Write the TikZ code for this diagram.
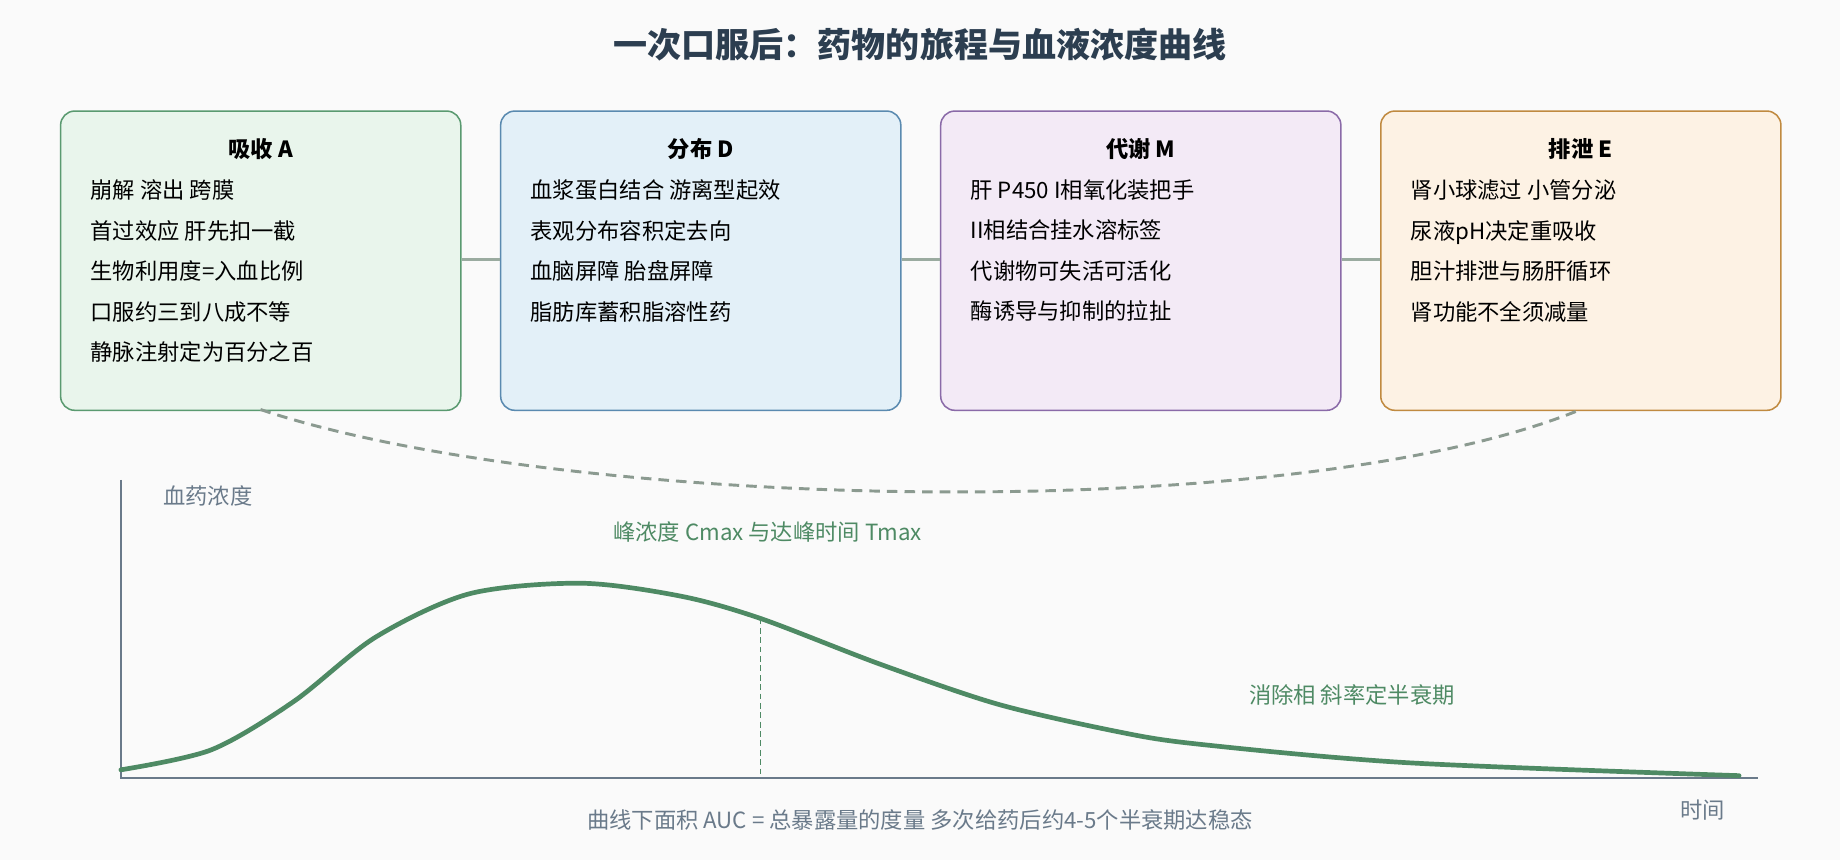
\documentclass[tikz,border=0pt]{standalone}
\usepackage{fontspec}
\setmainfont{Noto Sans CJK SC}
\usetikzlibrary{positioning}
\definecolor{ttl}{HTML}{2C3E50}
\definecolor{gline}{HTML}{9AABA0}
\definecolor{axc}{HTML}{6A7A8A}
\definecolor{grn}{HTML}{4E8A64}
\definecolor{fA}{HTML}{E9F5EC}\definecolor{sA}{HTML}{5A9A70}
\definecolor{fD}{HTML}{E3F0F8}\definecolor{sD}{HTML}{5A8AB0}
\definecolor{fM}{HTML}{F3EAF6}\definecolor{sM}{HTML}{8A6AA8}
\definecolor{fE}{HTML}{FDF2E4}\definecolor{sE}{HTML}{C08A40}
\begin{document}
\begin{tikzpicture}[x=1pt,y=-1pt,
 box/.style={draw,line width=1.3pt,rounded corners=12pt,minimum width=341pt,minimum height=255pt,anchor=north west},
 head/.style={font=\fontsize{19}{20}\selectfont\bfseries,anchor=center},
 body/.style={font=\fontsize{19}{34.5}\selectfont,anchor=north west,align=left,text=black,inner sep=0pt},
 lbl/.style={font=\fontsize{19}{20}\selectfont}]
\fill[white!98!black] (0,0) rectangle (1568,733);
\useasboundingbox (0,0) rectangle (1568,733);
\node[font=\fontsize{29}{30}\selectfont\bfseries,text=ttl] (title) at (784,38) {一次口服后：药物的旅程与血液浓度曲线};
\node[box,fill=fA,draw=sA] (A) at (51,94) {};
\node[box,fill=fD,draw=sD] (D) at (426,94) {};
\node[box,fill=fM,draw=sM] (M) at (801,94) {};
\node[box,fill=fE,draw=sE] (E) at (1176,94) {};
\foreach \b/\h in {A/吸收 A,D/分布 D,M/代谢 M,E/排泄 E}{\node[head] (h\b) at ([yshift=-33pt]\b.north) {\h};}
\node[body] (tA) at ([xshift=26pt,yshift=-59pt]A.north west) {崩解 溶出 跨膜\\首过效应 肝先扣一截\\生物利用度=入血比例\\口服约三到八成不等\\静脉注射定为百分之百};
\node[body] (tD) at ([xshift=26pt,yshift=-59pt]D.north west) {血浆蛋白结合 游离型起效\\表观分布容积定去向\\血脑屏障 胎盘屏障\\脂肪库蓄积脂溶性药};
\node[body] (tM) at ([xshift=26pt,yshift=-59pt]M.north west) {肝 P450 I相氧化装把手\\II相结合挂水溶标签\\代谢物可失活可活化\\酶诱导与抑制的拉扯};
\node[body] (tE) at ([xshift=26pt,yshift=-59pt]E.north west) {肾小球滤过 小管分泌\\尿液pH决定重吸收\\胆汁排泄与肠肝循环\\肾功能不全须减量};
\draw[gline,line width=3pt] (A.east|-0,221) -- (D.west|-0,221);
\draw[gline,line width=3pt] (D.east|-0,221) -- (M.west|-0,221);
\draw[gline,line width=3pt] (M.east|-0,221) -- (E.west|-0,221);
\coordinate (ca) at (222,349); \coordinate (ce) at (1347,349);
\draw[gline!90!black,line width=2.5pt,dash pattern=on 9pt off 6pt] (ca) .. controls (480,435) and (1100,450) .. (ce);
% axes
\coordinate (o) at (103,663); \coordinate (yt) at (103,409); \coordinate (xe) at (1498,663);
\draw[axc,line width=1.8pt] (yt) -- (o) -- (xe);
\node[lbl,text=axc] (ylab) at (177,423) {血药浓度};
\node[lbl,text=axc] (xlab) at (1451,690) {时间};
\node[lbl,text=axc] (cap) at (784,699) {曲线下面积 AUC = 总暴露量的度量 多次给药后约4-5个半衰期达稳态};
\coordinate (pk) at (648,527);
\draw[grn,line width=1.3pt,dash pattern=on 5pt off 3pt] (pk) -- (648,663);
\draw[grn,line width=4pt,line cap=round] plot[smooth,tension=0.5] coordinates {(103,656) (180,639) (250,598) (320,543) (400,506) (495,497) (580,508) (648,527) (750,566) (850,600) (950,623) (1020,634) (1200,650) (1482,661)};
\node[lbl,text=grn] (peak) at (654,453) {峰浓度 Cmax 与达峰时间 Tmax};
\node[lbl,text=grn] (elim) at (1152,592) {消除相 斜率定半衰期};
\end{tikzpicture}
\end{document}
